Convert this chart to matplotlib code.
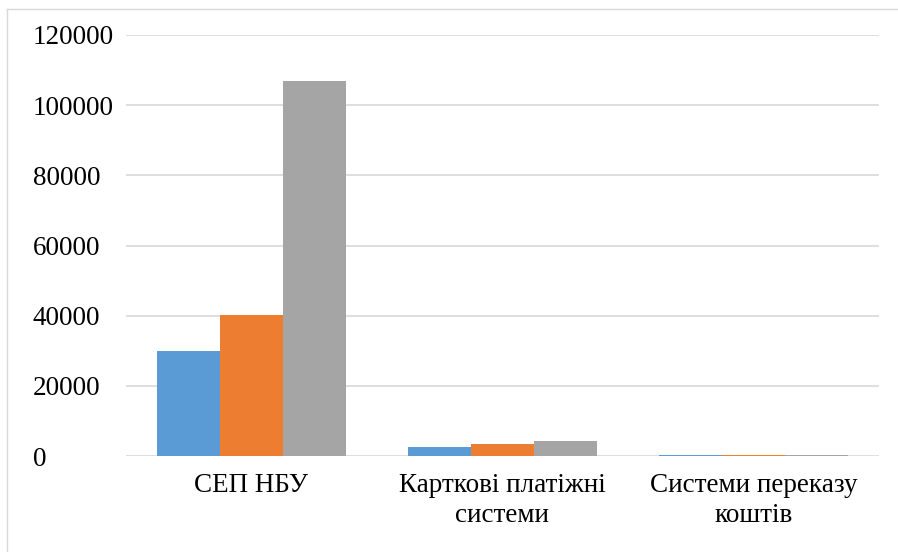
import numpy as np
import matplotlib
matplotlib.use("Agg")
import matplotlib.pyplot as plt
from matplotlib.lines import Line2D

# ------------------------------------------------------------
# Dati
# ------------------------------------------------------------
categorie = ["СЕП НБУ", "Карткові платіжні\nсистеми", "Системи переказу\nкоштів"]
serie_1 = [30000, 2600, 200]
serie_2 = [40200, 3300, 300]
serie_3 = [107000, 4400, 250]
y_ticks = [0, 20000, 40000, 60000, 80000, 100000, 120000]

COLORI = ["#5B9BD5", "#ED7D31", "#A5A5A5"]
GRIGLIA = "#D9D9D9"

plt.rcParams["font.family"] = ["Liberation Serif", "DejaVu Serif"]

fig = plt.figure(figsize=(8.98, 5.52), dpi=100)
ax = fig.add_axes([126 / 898, 1 - 456 / 552, (879 - 126) / 898, (456 - 35) / 552])

x = np.arange(len(categorie))
w = 0.25
for i, (vals, col) in enumerate(zip([serie_1, serie_2, serie_3], COLORI)):
    ax.bar(x + (i - 1) * w, vals, width=w, color=col, zorder=3)

ax.set_xlim(-0.5, len(categorie) - 0.5)
ax.set_ylim(0, 120000)
ax.set_yticks(y_ticks)
ax.set_yticklabels([str(v) for v in y_ticks])
ax.yaxis.grid(True, color=GRIGLIA, linewidth=1.2, zorder=0)
ax.set_axisbelow(True)

for s in ax.spines.values():
    s.set_visible(False)

ax.tick_params(axis="y", length=0, labelsize=19.5, pad=67)
for lab in ax.get_yticklabels():
    lab.set_horizontalalignment("left")

ax.set_xticks(x)
ax.set_xticklabels(categorie, fontsize=19.5, linespacing=1.3)
ax.tick_params(axis="x", length=0, pad=12)

# cornice esterna (solo bordo alto e sinistro visibili)
fig.add_artist(Line2D([7 / 898, 1], [1 - 9 / 552, 1 - 9 / 552],
                      transform=fig.transFigure, color=GRIGLIA, lw=1))
fig.add_artist(Line2D([7 / 898, 7 / 898], [0, 1 - 9 / 552],
                      transform=fig.transFigure, color=GRIGLIA, lw=1))

fig.savefig("out.png", dpi=100)
